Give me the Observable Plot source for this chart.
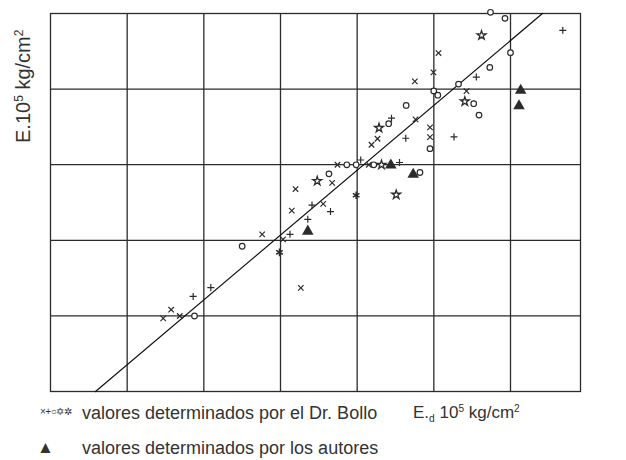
<!DOCTYPE html>
<html><head><meta charset="utf-8">
<script src="https://cdn.jsdelivr.net/npm/d3@7"></script>
<script src="https://cdn.jsdelivr.net/npm/@observablehq/plot@0.6"></script>
<style>
body{margin:0;background:#fff;font-family:"Liberation Sans",Arial,sans-serif;color:#333;}
#wrap{position:relative;width:626px;height:460px;overflow:hidden;}
#chart{position:absolute;left:0;top:0;}
.lab{position:absolute;white-space:nowrap;line-height:1;}
sup{font-size:0.6em;vertical-align:0.6em;line-height:0;}
sub{font-size:0.6em;vertical-align:-0.35em;line-height:0;}
#ylab{left:13px;top:143px;font-size:20px;transform:rotate(-90deg);transform-origin:left top;}
#xlab{left:413px;top:404px;font-size:17px;}
#leg1{left:82px;top:404px;font-size:18px;}
#leg2{left:82px;top:439px;font-size:18px;}
#sym1{left:40px;top:407px;font-size:10px;letter-spacing:-0.5px;}
#sym2{left:37px;top:439px;font-size:17px;color:#333;}
</style></head><body>
<div id="wrap">
<div id="chart"></div>
<div class="lab" id="ylab">E.10<sup>5</sup> kg/cm<sup>2</sup></div>
<div class="lab" id="xlab">E.<sub>d</sub> 10<sup>5</sup> kg/cm<sup>2</sup></div>
<div class="lab" id="sym1">×+○✡✲</div>
<div class="lab" id="leg1">valores determinados por el Dr. Bollo</div>
<div class="lab" id="sym2">▲</div>
<div class="lab" id="leg2">valores determinados por los autores</div>
</div>
<script>
// grid positions (one unit per grid cell)
const gridX = [1, 2, 3, 4, 5, 6];
const gridY = [1, 2, 3, 4];
// regression line endpoints
const fitX = [0.587, 6.417];
const fitY = [0, 5];
// Dr. Bollo values: ×
const timesX = [1.470,1.574,1.686,2.761,3.033,3.196,3.147,3.265,3.557,3.674,3.743,4.152,4.187,4.265,4.752,4.995,5.061,4.761,4.950,4.950,5.426];
const timesY = [0.967,1.082,0.999,2.079,2.013,2.678,2.393,1.370,2.482,2.760,2.999,2.999,3.264,3.343,4.102,4.221,4.477,3.599,3.493,3.364,3.974];
// Dr. Bollo values: +
const plusX = [1.861,2.091,3.124,3.356,3.411,3.652,4.046,4.552,4.448,4.634,5.263,5.554,6.682];
const plusY = [1.258,1.374,2.079,2.278,2.466,2.380,3.062,3.029,3.615,3.350,3.367,4.159,4.777];
// Dr. Bollo values: o
const circX = [1.878,2.500,3.632,3.865,3.987,4.217,4.411,4.639,4.819,4.950,4.999,5.052,5.322,5.520,5.589,5.730,5.739,5.928,6.000];
const circY = [0.999,1.921,2.879,2.999,2.999,2.999,3.542,3.784,2.897,3.212,3.976,3.919,4.066,3.807,3.656,4.287,5.016,4.936,4.482];
// Dr. Bollo values: star
const starX = [3.479,4.285,4.317,4.509,5.404,5.622];
const starY = [2.784,3.486,2.999,2.603,3.837,4.711];
// Dr. Bollo values: asterisk
const astX = [2.987,3.987];
const astY = [1.841,2.596];
// authors' values: triangles
const triX = [3.356,4.439,4.731,6.133,6.111];
const triY = [2.119,2.995,2.870,3.983,3.777];

const pts = (xs, ys) => xs.map((x, i) => ({x, y: ys[i]}));
const ink = "#2b2b2b";
const chart = Plot.plot({
  width: 626, height: 400,
  marginLeft: 50, marginRight: 46, marginTop: 13, marginBottom: 9,
  x: {domain: [0, 6.913], axis: null},
  y: {domain: [0, 5], axis: null},
  marks: [
    Plot.ruleX(gridX, {stroke: ink, strokeWidth: 1.3}),
    Plot.ruleY(gridY, {stroke: ink, strokeWidth: 1.3}),
    Plot.frame({stroke: ink, strokeWidth: 1.3}),
    Plot.line(pts(fitX, fitY), {x: "x", y: "y", stroke: "#111", strokeWidth: 1.2}),
    Plot.dot(pts(timesX, timesY), {x: "x", y: "y", symbol: "times", r: 2.6, stroke: ink, strokeWidth: 1.2}),
    Plot.dot(pts(plusX, plusY), {x: "x", y: "y", symbol: "plus", r: 2.4, stroke: ink, strokeWidth: 1.2}),
    Plot.dot(pts(circX, circY), {x: "x", y: "y", symbol: "circle", r: 2.8, stroke: ink, fill: "white", strokeWidth: 1.2}),
    Plot.dot(pts(starX, starY), {x: "x", y: "y", symbol: "star", r: 2.8, stroke: ink, fill: "white", strokeWidth: 1.3}),
    Plot.dot(pts(astX, astY), {x: "x", y: "y", symbol: "asterisk", r: 3.6, stroke: ink, strokeWidth: 1.5}),
    Plot.dot(pts(triX, triY), {x: "x", y: "y", symbol: "triangle", r: 4.3, fill: ink, stroke: "none"})
  ]
});
document.getElementById("chart").appendChild(chart);
</script>
</body></html>
